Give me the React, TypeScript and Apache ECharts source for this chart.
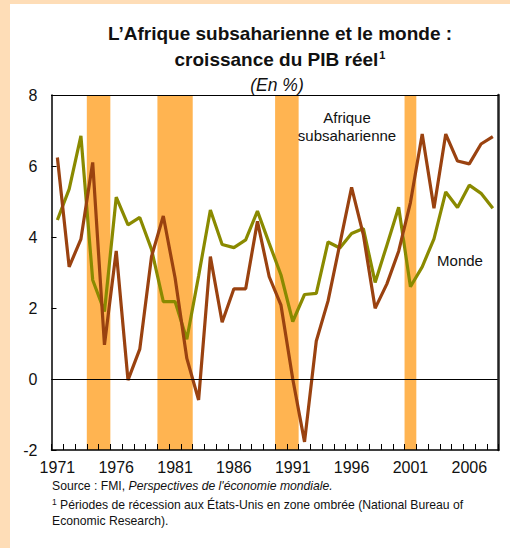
import React, { useEffect, useRef } from "react";
import * as echarts from "echarts";

const years = ["1971","1972","1973","1974","1975","1976","1977","1978","1979","1980","1981","1982","1983","1984","1985","1986","1987","1988","1989","1990","1991","1992","1993","1994","1995","1996","1997","1998","1999","2000","2001","2002","2003","2004","2005","2006","2007","2008"];

const africa = [6.24,3.16,3.94,6.10,0.96,3.61,-0.03,0.84,3.45,4.59,2.85,0.58,-0.59,3.45,1.60,2.54,2.54,4.44,2.88,2.08,0.0,-1.77,1.07,2.2,3.8,5.4,4.06,1.99,2.68,3.6,4.97,6.9,4.81,6.9,6.14,6.06,6.62,6.83];

const world = [4.48,5.35,6.85,2.79,1.9,5.12,4.34,4.55,3.65,2.18,2.18,1.12,2.9,4.76,3.79,3.7,3.92,4.73,3.82,2.93,1.62,2.38,2.41,3.86,3.69,4.1,4.24,2.72,3.77,4.84,2.6,3.16,3.95,5.27,4.83,5.46,5.23,4.81];

// US recession periods (first year, last year), shaded
const recessionStart = ["1974", "1980", "1990", "2001"];
const recessionEnd = ["1975", "1982", "1991", "2001"];

const yTicks = [-2, 0, 2, 4, 6, 8];

const FONT = "Arial, 'Liberation Sans', sans-serif";

export default function App() {
  const ref = useRef<HTMLDivElement>(null);
  useEffect(() => {
    if (!ref.current) return;
    const chart = echarts.init(ref.current, null, { renderer: "svg" });
    const bandData = recessionStart.map((s, i) => [years.indexOf(s), years.indexOf(recessionEnd[i])]);
    chart.setOption({
      animation: false,
      textStyle: { fontFamily: FONT },
      grid: { left: 41.5, top: 91, right: 11.3, bottom: 98, containLabel: false },
      xAxis: [
        {
          type: "category",
          data: years,
          boundaryGap: true,
          z: 5,
          axisLine: { show: true, onZero: false, lineStyle: { color: "#000", width: 1.5 } },
          axisTick: { show: true, inside: true, length: 6, interval: 0, lineStyle: { color: "#000" } },
          axisLabel: { interval: 4, fontSize: 16, color: "#111", margin: 9, fontFamily: FONT },
          splitLine: { show: false },
        },
        {
          type: "category",
          data: years,
          position: "top",
          z: 5,
          axisLine: { show: true, onZero: false, lineStyle: { color: "#000", width: 1 } },
          axisTick: { show: false },
          axisLabel: { show: false },
        },
      ],
      yAxis: [
        {
          type: "value",
          min: yTicks[0],
          max: yTicks[yTicks.length - 1],
          interval: 2,
          z: 5,
          axisLine: { show: true, onZero: false, lineStyle: { color: "#000", width: 1.5 } },
          axisTick: { show: true, inside: true, length: 5, lineStyle: { color: "#000" } },
          axisLabel: { fontSize: 16, color: "#111", margin: 14, fontFamily: FONT },
          splitLine: { show: false },
        },
        {
          type: "value",
          min: 0,
          max: 1,
          position: "right",
          z: 5,
          axisLine: { show: true, onZero: false, lineStyle: { color: "#222", width: 2.5 } },
          axisTick: { show: false },
          axisLabel: { show: false },
          splitLine: { show: false },
        },
      ],
      series: [
        {
          type: "custom",
          data: bandData,
          encode: { x: [0, 1] },
          z: 1,
          silent: true,
          renderItem: (params: any, api: any) => {
            const s = api.value(0);
            const e = api.value(1);
            const bw = api.size([1, 0])[0];
            const x0 = api.coord([s, 0])[0] - bw / 2;
            const x1 = api.coord([e, 0])[0] + bw / 2;
            const cs = params.coordSys;
            return {
              type: "rect",
              shape: { x: x0, y: cs.y, width: x1 - x0, height: cs.height },
              style: { fill: "#FFB451" },
            };
          },
        },
        {
          type: "line",
          data: world,
          symbol: "none",
          lineStyle: { color: "#8A8A00", width: 3.2 },
          z: 3,
          markLine: {
            silent: true,
            symbol: "none",
            label: { show: false },
            lineStyle: { color: "#000", width: 1, type: "solid" },
            data: [{ yAxis: 0 }],
          },
        },
        {
          type: "line",
          data: africa,
          symbol: "none",
          lineStyle: { color: "#9A4210", width: 3.2 },
          z: 4,
        },
      ],
      graphic: [
        {
          type: "text",
          x: 270,
          y: 29,
          style: {
            text: "L’Afrique subsaharienne et le monde :",
            font: `bold 19px ${FONT}`,
            fill: "#111",
            textAlign: "center",
            textVerticalAlign: "middle",
          },
        },
        {
          type: "text",
          x: 270,
          y: 55.5,
          style: {
            text: "croissance du PIB réel{s|1}",
            font: `bold 19px ${FONT}`,
            fill: "#111",
            textAlign: "center",
            textVerticalAlign: "middle",
            rich: {
              s: { fontSize: 11, fontWeight: "bold", fontFamily: FONT, padding: [0, 0, 10, 1], fill: "#111" },
            },
          },
        },
        {
          type: "text",
          x: 267,
          y: 81,
          style: {
            text: "(En %)",
            font: `italic 17.5px ${FONT}`,
            fill: "#111",
            textAlign: "center",
            textVerticalAlign: "middle",
          },
        },
        {
          type: "text",
          x: 337,
          y: 122,
          z: 10,
          style: {
            text: "Afrique\nsubsaharienne",
            font: `15px ${FONT}`,
            lineHeight: 18,
            fill: "#111",
            textAlign: "center",
            textVerticalAlign: "middle",
          },
        },
        {
          type: "text",
          x: 450,
          y: 256,
          z: 10,
          style: {
            text: "Monde",
            font: `15px ${FONT}`,
            fill: "#111",
            textAlign: "center",
            textVerticalAlign: "middle",
          },
        },
        {
          type: "text",
          x: 42,
          y: 482,
          style: {
            text: "Source : FMI, {i|Perspectives de l'économie mondiale.}",
            font: `12.2px ${FONT}`,
            fill: "#111",
            textAlign: "left",
            textVerticalAlign: "middle",
            rich: { i: { fontStyle: "italic", fontSize: 12.2, fontFamily: FONT, fill: "#111" } },
          },
        },
        {
          type: "text",
          x: 42,
          y: 501,
          style: {
            text: "{s|1} Périodes de récession aux États-Unis en zone ombrée (National Bureau of",
            font: `12.2px ${FONT}`,
            fill: "#111",
            textAlign: "left",
            textVerticalAlign: "middle",
            rich: { s: { fontSize: 8.5, fontFamily: FONT, padding: [0, 0, 6, 0], fill: "#111" } },
          },
        },
        {
          type: "text",
          x: 42,
          y: 517,
          style: {
            text: "Economic Research).",
            font: `12.2px ${FONT}`,
            fill: "#111",
            textAlign: "left",
            textVerticalAlign: "middle",
          },
        },
      ],
    });
    return () => chart.dispose();
  }, []);

  return (
    <div style={{ position: "fixed", left: 0, top: 0, width: 510, height: 548, background: "#FEDDB7" }}>
      <div
        ref={ref}
        style={{ position: "absolute", left: 10, top: 4, width: 500, height: 544, background: "#fff" }}
      />
    </div>
  );
}
